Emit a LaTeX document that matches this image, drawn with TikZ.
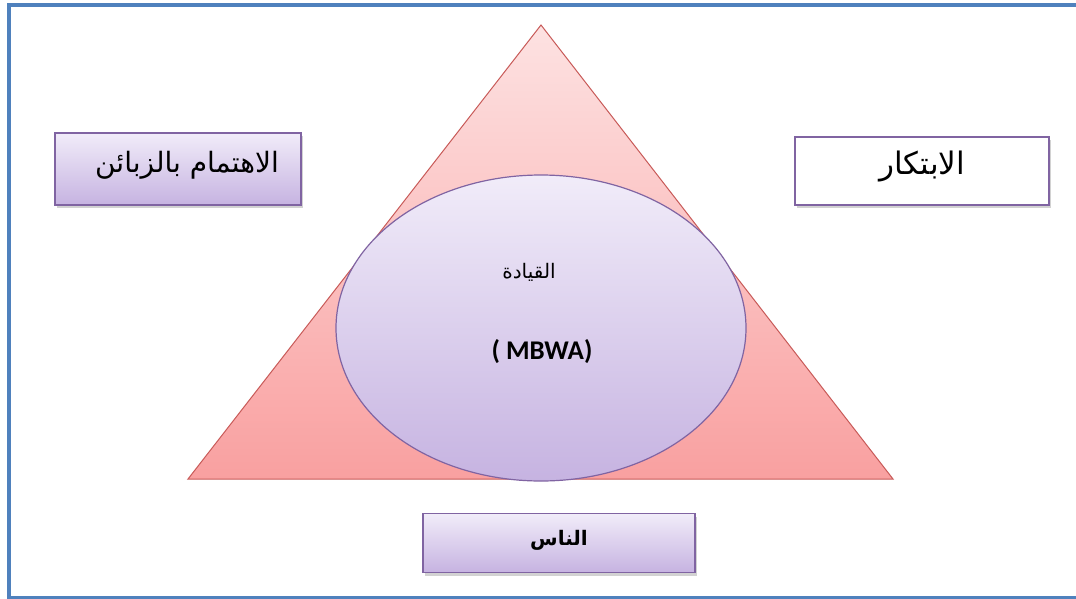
\documentclass[tikz,border=0pt]{standalone}
\usepackage{fontspec}
\setmainfont{Carlito}
\newfontfamily\arabicfont[Script=Arabic]{DejaVu Sans}
\TeXXeTstate=1
\usetikzlibrary{shapes.geometric,shadows}
\definecolor{frameblue}{HTML}{4F81BD}
\definecolor{tritop}{HTML}{FDE2E2}
\definecolor{tribot}{HTML}{F9A0A0}
\definecolor{triedge}{HTML}{C85A58}
\definecolor{lavtop}{HTML}{F1ECF9}
\definecolor{lavbot}{HTML}{C6B3E1}
\definecolor{purpleedge}{HTML}{8064A2}
\tikzset{
  labelbox/.style={draw=purpleedge, line width=1.2pt, rectangle, inner sep=0pt,
    drop shadow={opacity=0.35, shadow xshift=2pt, shadow yshift=-3pt}},
  lavfill/.style={top color=lavtop, bottom color=lavbot},
  artext/.style={font=\arabicfont\fontsize{28}{32}\selectfont, text=black},
}
\begin{document}
\begin{tikzpicture}[x=1pt,y=-1pt]
  \useasboundingbox (0,0) rectangle (1076,598);
  \fill[white] (0,0) rectangle (1076,598);
  % outer frame
  \draw[frameblue, line width=4pt] (9,5) rectangle (1095,598);
  % triangle
  \coordinate (apex) at (541,25);
  \coordinate (bl) at (188,479);
  \coordinate (br) at (893,479);
  \shade[top color=tritop, bottom color=tribot, draw=triedge, line width=1pt]
    (apex) -- (br) -- (bl) -- cycle;
  % central ellipse
  \node[ellipse, draw=purpleedge, line width=1.2pt, lavfill,
        minimum width=410pt, minimum height=306pt, inner sep=0pt] (lead) at (541,328) {};
  \node[artext, font=\arabicfont\fontsize{20}{24}\selectfont] (leadar) at (529,272) {\beginR القيادة\endR};
  \node[font=\bfseries\fontsize{27}{30}\selectfont] (mbwa) at (542,352) {( MBWA)};
  % side boxes
  \node[labelbox, lavfill, minimum width=246pt, minimum height=72pt] (cust) at (178,169) {};
  \node[artext] (custt) at (187,165) {\beginR الاهتمام بالزبائن\endR};
  \node[labelbox, fill=white, minimum width=254pt, minimum height=68pt] (innov) at (922,171) {};
  \node[artext, font=\arabicfont\fontsize{31}{34}\selectfont] (innovt) at (922,167) {\beginR الابتكار\endR};
  \node[labelbox, lavfill, minimum width=272pt, minimum height=59pt] (people) at (559,543) {};
  \node[artext, font=\arabicfont\bfseries\fontsize{20}{23}\selectfont] (peoplet) at (559,540) {\beginR الناس\endR};
\end{tikzpicture}
\end{document}
